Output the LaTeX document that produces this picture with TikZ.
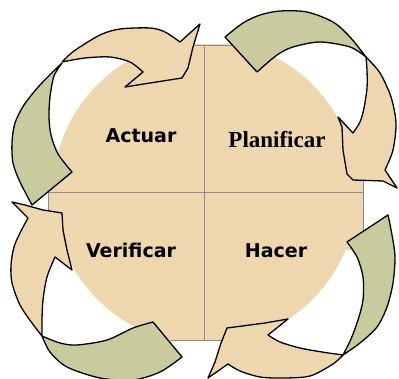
\documentclass[tikz,border=0pt]{standalone}
\usepackage{fontspec}
\newfontfamily\quadsans{DejaVu Sans}
\newfontfamily\quadserif{Liberation Serif}
\definecolor{parch}{HTML}{EED6AE}
\definecolor{sage} {HTML}{C9CB9F}
\definecolor{rule} {HTML}{8C8C8C}

\begin{document}
\begin{tikzpicture}[
  x=1pt,y=-1pt,
  band/.style={draw=black,line width=1.3pt,line join=round},
  headpart/.style={band,fill=parch},
  tailpart/.style={band,fill=sage},
  divider/.style={draw=rule,line width=0.9pt},
  quadtxt/.style={font=\quadsans\bfseries\fontsize{19}{22}\selectfont,anchor=base,inner sep=0pt},
  quadserif/.style={font=\quadserif\bfseries\fontsize{23}{26}\selectfont,anchor=base,inner sep=0pt},
]
\useasboundingbox (0,0) rectangle (399,379);

% ---- parchment disc cut by the square ---------------------------------------
\begin{scope}
  \clip (48,45) rectangle (363,340);
  \fill[parch] (205,192) circle[radius=152pt];
  \fill[parch] (48,175) rectangle (363,250);
\end{scope}

% ---- square border and cross ------------------------------------------------
\draw[divider] (166,45) -- (244,45);
\draw[divider] (170,340) -- (240,340);
\draw[divider] (48,175) -- (48,250);
\draw[divider] (363,175) -- (363,250);
\draw[divider] (204,45) -- (204,340);
\draw[divider] (48,192) -- (363,192);

% ---- quadrant labels --------------------------------------------------------
\node[quadtxt]   (actuar)     at (141,143) {Actuar};
\node[quadserif] (planificar) at (277,148) {Planificar};
\node[quadtxt]   (verificar)  at (131,258) {Verificar};
\node[quadtxt]   (hacer)      at (276,258) {Hacer};

% ---- bottom-left arrow (up the left side) -----------------------------------
\filldraw[tailpart] plot[smooth] coordinates {(182,357) (160,372) (133,380) (100,378) (67,367) (50,352) (42,336)}
  -- plot[smooth] coordinates {(42,336) (60,343) (77,345) (107,340) (133,328) (153,322)} -- cycle;
\filldraw[headpart] plot[smooth] coordinates {(42,336) (32,323) (20,305) (12,283) (11,265) (14,247) (20,233) (28,218)}
  -- (12,202) -- (25,205) -- (43,210) -- (62,213) -- (63,230) -- (67,250) -- (72,270) -- (55,257)
  -- plot[smooth] coordinates {(55,257) (47,277) (43,300) (42,320) (42,336)} -- cycle;

% ---- top-left arrow (over the top) ------------------------------------------
\filldraw[headpart] plot[smooth] coordinates {(62,62) (74,51) (100,35) (120,29) (150,28) (165,32) (180,42)}
  -- (200,24) -- (193,47) -- (188,68) -- (182,78) -- (150,83) -- (125,87) -- (143,72)
  -- plot[smooth] coordinates {(143,72) (130,62) (110,57) (85,58) (62,62)} -- cycle;
\filldraw[tailpart] plot[smooth] coordinates {(62,63) (40,85) (24,105) (15,123) (12,142) (13,163) (20,182) (32,205)}
  -- (72,172)
  -- plot[smooth] coordinates {(72,172) (58,154) (51,135) (49,117) (50,97) (54,76) (62,63)} -- cycle;

% ---- top-right arrow (down the right side) ----------------------------------
\filldraw[tailpart] plot[smooth] coordinates {(225,37) (243,23) (260,15) (280,11) (307,12) (333,22) (350,37) (366,57)}
  -- plot[smooth] coordinates {(366,57) (350,47) (320,42) (293,47) (277,55) (257,72)} -- cycle;
\filldraw[headpart] plot[smooth] coordinates {(366,57) (380,73) (391,97) (396,123) (393,150) (385,170)}
  -- (397,188) -- (383,181) -- (353,180) -- (347,174) -- (343,150) -- (342,127) -- (338,117) -- (353,133)
  -- plot[smooth] coordinates {(353,133) (360,122) (364,108) (367,88) (367,70) (366,57)} -- cycle;

% ---- bottom-right arrow (along the bottom) ----------------------------------
\filldraw[tailpart] plot[smooth] coordinates {(388,215) (392,235) (395,257) (393,283) (387,307) (377,327) (360,343) (343,355)}
  -- plot[smooth] coordinates {(343,355) (351,339) (358,320) (363,300) (363,277) (357,257) (347,242)} -- cycle;
\filldraw[headpart] plot[smooth] coordinates {(343,355) (333,364) (310,376) (283,378) (260,377) (240,371) (228,364)}
  -- (208,378) -- (215,362) -- (221,343) -- (227,328) -- (265,323) -- (288,319) -- (268,335)
  -- plot[smooth] coordinates {(268,335) (280,342) (300,348) (322,352) (343,355)} -- cycle;

\end{tikzpicture}
\end{document}
